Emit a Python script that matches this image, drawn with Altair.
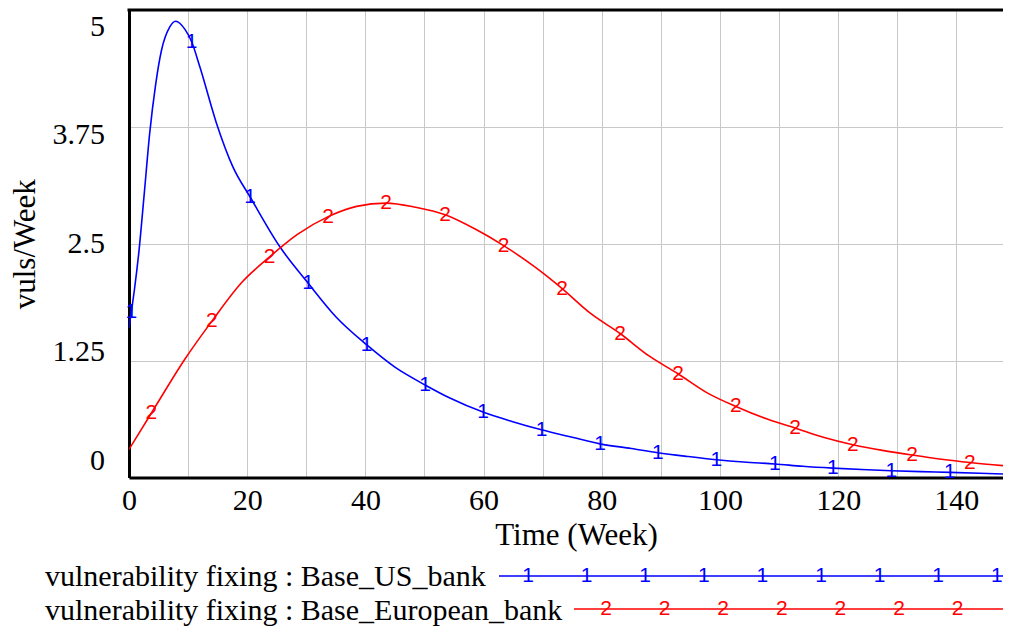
import altair as alt
import pandas as pd

# ---------------- data ----------------
blue_t = [0, 0.4, 0.9, 1.7, 2.6, 3.5, 4.5, 5.5, 6.9, 7.9, 9.5, 10.6, 12, 14.8, 17.6, 20.5,
          25.5, 30.3, 35, 40.2, 45, 50.1, 54.3, 59.9, 64.8, 69.8, 75, 79.7, 85, 89.5,
          94.5, 99.4, 104, 109.3, 114, 119.1, 124, 129, 134, 138.9, 144, 149.2]
blue_v = [1.6, 1.77, 2.0, 2.43, 3.05, 3.68, 4.2, 4.57, 4.82, 4.88, 4.79, 4.66, 4.39, 3.79, 3.32, 3.0,
          2.47, 2.08, 1.72, 1.42, 1.18, 0.99, 0.85, 0.70, 0.60, 0.51, 0.43, 0.36, 0.31, 0.265,
          0.225, 0.19, 0.165, 0.145, 0.12, 0.10, 0.085, 0.073, 0.063, 0.055, 0.045, 0.034]
blue_marks = [0.4, 10.6, 20.5, 30.3, 40.2, 50.1, 59.9, 69.8, 79.7, 89.5, 99.4, 109.3,
              119.1, 129, 138.9]

red_t = [0, 3.8, 9.5, 14, 19, 23.8, 28.5, 33.7, 38.5, 43.5, 48.5, 53.5, 58.5, 63.4, 68.5,
         73.3, 78, 83.1, 88, 92.9, 98, 102.7, 108, 112.7, 117.5, 122.5, 127.5, 132.5,
         137.5, 142.3, 149.2]
red_v = [0.30, 0.69, 1.27, 1.67, 2.08, 2.36, 2.60, 2.79, 2.90, 2.935, 2.89, 2.81, 2.66, 2.48,
         2.26, 2.02, 1.76, 1.54, 1.30, 1.11, 0.90, 0.76, 0.625, 0.53, 0.43, 0.35, 0.29, 0.24,
         0.195, 0.16, 0.12]
red_marks = [3.8, 14, 23.8, 33.7, 43.5, 53.5, 63.4, 73.3, 83.1, 92.9, 102.7, 112.7,
             122.5, 132.5, 142.3]

series_names = ["vulnerability fixing : Base_US_bank",
                "vulnerability fixing : Base_European_bank"]
series_digits = ["1", "2"]
series_colors = ["#0000ff", "#ff0000"]

x_grid_vals = list(range(0, 150, 10))
y_tick_vals = [0, 1.25, 2.5, 3.75, 5]
y_tick_labels = ["0", "1.25", "2.5", "3.75", "5"]

# ---------------- layout ----------------
W = 874
H = 467.5
SERIF = "Liberation Serif"
SANS = "Liberation Sans"

rows = []
for t, v in zip(blue_t, blue_v):
    rows.append(dict(t=t, v=v, s=series_names[0], d=series_digits[0], m=t in blue_marks))
for t, v in zip(red_t, red_v):
    rows.append(dict(t=t, v=v, s=series_names[1], d=series_digits[1], m=t in red_marks))
df = pd.DataFrame(rows)

xscale = alt.Scale(domain=[0, 147.9], nice=False, zero=False)
yscale = alt.Scale(domain=[0, 5], nice=False, zero=False)
cscale = alt.Scale(domain=series_names, range=series_colors)

x_axis = alt.Axis(
    title="Time (Week)", values=x_grid_vals,
    labelExpr="datum.value % 20 == 0 ? datum.label : ''",
    labelFont=SERIF, labelFontSize=30, labelColor="black", labelPadding=8,
    labelFlush=False, labelOverlap=False, ticks=False,
    domain=True, domainColor="black", domainWidth=3,
    grid=True, gridColor="#c8c8c8", gridWidth=1,
    titleFont=SERIF, titleFontSize=31, titleFontWeight="normal", titleColor="black",
    titleX=447, titleY=67, titleBaseline="alphabetic", titleAlign="center",
)
y_axis = alt.Axis(
    title="vuls/Week", values=y_tick_vals, labels=False, ticks=False,
    domain=True, domainColor="black", domainWidth=3,
    grid=True, gridColor="#c8c8c8", gridWidth=1,
    titleFont=SERIF, titleFontSize=31, titleFontWeight="normal", titleColor="black",
    titleX=-104, titleY=H / 2, titleAngle=270, titleBaseline="middle", titleAlign="center",
)

base = alt.Chart(df)
lines = base.mark_line(strokeWidth=1.6, interpolate="monotone", clip=True).encode(
    x=alt.X("t:Q", scale=xscale, axis=x_axis),
    y=alt.Y("v:Q", scale=yscale, axis=y_axis),
    color=alt.Color("s:N", scale=cscale, legend=None),
    detail="s:N",
)
markers = base.transform_filter("datum.m").mark_text(
    font=SANS, fontSize=21, align="center", baseline="middle"
).encode(
    x=alt.X("t:Q", scale=xscale, axis=x_axis),
    y=alt.Y("v:Q", scale=yscale, axis=y_axis),
    text="d:N",
    color=alt.Color("s:N", scale=cscale, legend=None),
)

# y tick labels (Vensim spreads them slightly inward)
ylab_df = pd.DataFrame({"val": y_tick_vals, "lab": y_tick_labels})
ylabels = alt.Chart(ylab_df).transform_calculate(
    pos="0.18 + datum.val * 0.928"
).mark_text(font=SERIF, fontSize=30, align="right", baseline="middle", color="black").encode(
    x=alt.value(-24),
    y=alt.Y("pos:Q", scale=yscale, axis=y_axis),
    text="lab:N",
)

# top frame line
frame_df = pd.DataFrame({"k": [0]})
top_line = alt.Chart(frame_df).mark_rule(color="black", strokeWidth=3).encode(
    x=alt.value(-1.5), x2=alt.value(W + 5), y=alt.value(0)
)

# legend
legend_layers = []
leg_rows = [
    # text baseline y, line y, line x start, first marker x, n markers
    (576, 566, 370, 399, 9),
    (610, 599, 445, 477, 7),
]
for i, (tb, ly, lx0, mx0, n) in enumerate(leg_rows):
    ldf = pd.DataFrame({"name": [series_names[i]]})
    legend_layers.append(
        alt.Chart(ldf).mark_text(font=SERIF, fontSize=30, align="left",
                                 baseline="alphabetic", color="black").encode(
            x=alt.value(-84), y=alt.value(tb), text="name:N")
    )
    legend_layers.append(
        alt.Chart(ldf).mark_rule(color=series_colors[i], strokeWidth=1.6).encode(
            x=alt.value(lx0), x2=alt.value(W), y=alt.value(ly))
    )
    for k in range(n):
        legend_layers.append(
            alt.Chart(ldf).mark_text(font=SANS, fontSize=21, align="center",
                                     baseline="middle", color=series_colors[i]).encode(
                x=alt.value(mx0 + k * 58.6), y=alt.value(ly), text=alt.value(series_digits[i]))
        )

chart = alt.layer(lines, markers, ylabels, top_line, *legend_layers).properties(
    width=W, height=H,
    padding={"left": 121, "top": 2, "right": 0, "bottom": 150},
    autosize=alt.AutoSizeParams(type="none"),
    background="white",
).configure_view(stroke=None)

chart.save("out.html", embed_options={"renderer": "svg", "actions": False})
